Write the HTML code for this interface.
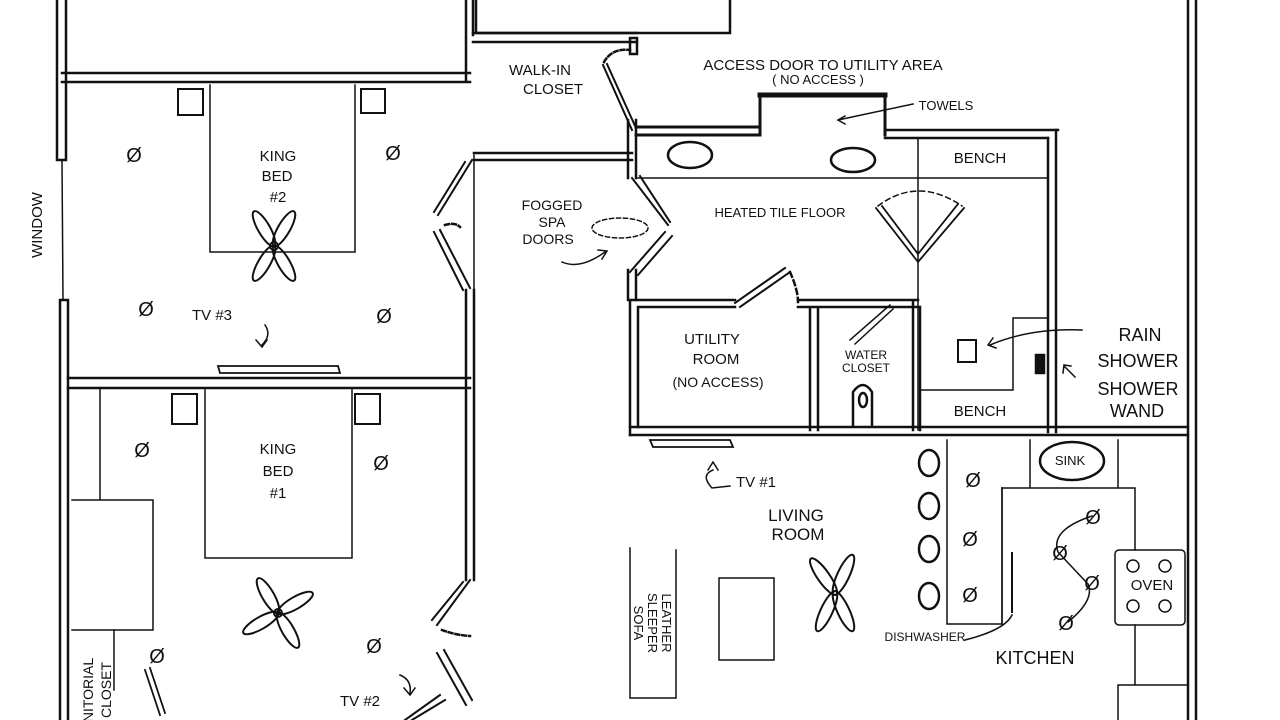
<!DOCTYPE html>
<html><head><meta charset="utf-8"><style>
html,body{margin:0;padding:0;background:#fff;width:1280px;height:720px;overflow:hidden}
svg text{font-family:"Liberation Sans",sans-serif;fill:#111}
</style></head><body>
<svg width="1280" height="720" viewBox="0 0 1280 720" xmlns="http://www.w3.org/2000/svg">
<g stroke="#111" stroke-width="2.5" fill="none" stroke-linecap="square">
<!-- left outer wall -->
<path d="M57 0V160M66 0V160M57 160H66"/>
<path d="M60 300V720M68 300V720M60 300H68"/>
<line x1="62" y1="160" x2="63" y2="300" stroke-width="1.5"/>
<!-- top-left room -->
<path d="M62 73H470M62 82H470M466 0V82M473 0V35"/>
<path d="M476 0V33H730V0"/>
<path d="M473 33H637M473 42H637"/>
<rect x="630" y="38" width="7" height="16"/>
<!-- wall between bedrooms -->
<path d="M68 378H470M68 388H470"/>
<!-- hall vertical wall -->
<path d="M466 290V580M474 290V580" />
<line x1="474" y1="155" x2="474" y2="290" stroke-width="1.5"/>
<path d="M474 153H632M474 160H632"/>
<!-- bed2 doors -->
<path d="M472 160L438 215M465 162L434 212" stroke-width="2"/>
<path d="M434 232L463 290M440 230L470 288" stroke-width="2"/>
<path d="M445 225Q455 222 460 227" stroke-dasharray="4 3"/>
<!-- closet door -->
<path d="M603 65L632 130M607 64L636 128" stroke-width="2"/>
<path d="M604 62Q612 48 630 50" stroke-dasharray="4 3"/>
<!-- bath left wall -->
<path d="M628 120V178M636 120V178M628 270V300M636 270V300"/>
<path d="M632 178L668 225M640 176L670 222" stroke-width="2"/>
<path d="M630 272L665 232M638 275L672 236" stroke-width="2"/>
<ellipse cx="620" cy="228" rx="28" ry="10" stroke-dasharray="4 3" stroke-width="1.5"/>
<!-- bath top -->
<path d="M636 127H760M636 135H760M760 135V95H885V135" stroke-width="3"/>
<path d="M760 95H885" stroke-width="5"/>
<path d="M885 130H1058M885 138H1048"/>
<path d="M1048 138V432M1056 130V432"/>
<path d="M636 178H1048M918 138V430" stroke-width="1.5"/>
<ellipse cx="690" cy="155" rx="22" ry="13"/>
<ellipse cx="853" cy="160" rx="22" ry="12"/>
<!-- shower door -->
<path d="M876 208L918 262L964 208M882 206L918 254L958 204" stroke-width="1.8"/>
<path d="M878 206Q918 176 962 206" stroke-dasharray="5 4" stroke-width="1.5"/>
<!-- utility/WC -->
<path d="M630 300V435M638 307V427M630 300H735M638 307H735"/>
<path d="M735 303L785 268M740 307L790 272" stroke-width="2"/>
<path d="M790 272Q798 290 798 302" stroke-dasharray="5 4"/>
<path d="M798 300H918M798 307H918M810 307V430M818 307V430M913 300V430M920 307V430"/>
<path d="M630 427H1188M630 435H1188"/>
<path d="M850 340L890 305M855 344L893 309" stroke-width="1.5"/>
<path d="M853 425V392Q863 378 872 392V425"/>
<ellipse cx="863" cy="400" rx="4" ry="7"/>
<path d="M1048 318H1013V390H920" stroke-width="1.5"/>
<rect x="958" y="340" width="18" height="22" stroke-width="2"/>
<rect x="1036" y="355" width="8" height="18" fill="#111"/>
<!-- outer right wall -->
<path d="M1188 0V720M1196 0V720"/>
<!-- tv1 -->
<path d="M650 440H730L733 447H653Z" stroke-width="1.8"/>
<!-- bed2 furniture -->
<path d="M210 85V252H355V85" stroke-width="1.5"/>
<rect x="178" y="89" width="25" height="26" stroke-width="2"/>
<rect x="361" y="89" width="24" height="24" stroke-width="2"/>
<path d="M218 366H338L340 373H220Z" stroke-width="1.8"/>
<!-- bed1 furniture -->
<path d="M205 390V558H352V390" stroke-width="1.5"/>
<rect x="172" y="394" width="25" height="30" stroke-width="2"/>
<rect x="355" y="394" width="25" height="30" stroke-width="2"/>
<path d="M100 388V500M88 500H125M72 500H153V630H72" stroke-width="1.5"/>
<path d="M114 630V690" stroke-width="1.5"/>
<path d="M145 670L160 715M150 668L165 713" stroke-width="1.8"/>
<!-- bed1 door -->
<path d="M470 580L437 625M463 582L432 620" stroke-width="2"/>
<path d="M437 653L466 705M444 650L472 700" stroke-width="2"/>
<path d="M442 630Q455 635 470 636" stroke-dasharray="4 3"/>
<path d="M405 720L440 695M412 720L445 700" stroke-width="2"/>
<!-- living -->
<path d="M630 548V698M676 550V698H630" stroke-width="1.5"/>
<rect x="719" y="578" width="55" height="82" stroke-width="1.5"/>
<!-- kitchen -->
<path d="M947 440V624H1002V488" stroke-width="1.5"/>
<path d="M1030 440V488M1118 440V488M1002 488H1135V550" stroke-width="1.5"/>
<path d="M1002 488V624" stroke-width="1.5"/>
<path d="M1012 553V612" stroke-width="2"/>
<rect x="1115" y="550" width="70" height="75" rx="4" stroke-width="1.5"/>
<path d="M1135 625V685M1118 685V720M1118 685H1188" stroke-width="1.5"/>
<ellipse cx="1072" cy="461" rx="32" ry="19"/>
<ellipse cx="929" cy="463" rx="10" ry="13"/>
<ellipse cx="929" cy="506" rx="10" ry="13"/>
<ellipse cx="929" cy="549" rx="10" ry="13"/>
<ellipse cx="929" cy="596" rx="10" ry="13"/>
<circle cx="1133" cy="566" r="6" stroke-width="1.5"/><circle cx="1165" cy="566" r="6" stroke-width="1.5"/>
<circle cx="1133" cy="606" r="6" stroke-width="1.5"/><circle cx="1165" cy="606" r="6" stroke-width="1.5"/>
<path d="M1092 516Q1050 530 1058 552Q1070 565 1088 584Q1095 600 1068 622" stroke-width="1.5"/>
<path d="M1012 615Q1005 630 965 640" stroke-width="1.5"/>
<!-- arrows -->
<path d="M265 325Q272 335 262 345M256 340L262 347L267 340" stroke-width="1.5"/>
<path d="M562 262Q580 270 605 252M598 250L607 251L602 259" stroke-width="1.5"/>
<path d="M1082 330Q1030 328 990 345M993 338L988 345L996 348" stroke-width="1.5"/>
<path d="M1075 377L1064 366M1063 373L1064 365L1071 366" stroke-width="1.5"/>
<path d="M913 104L838 120M845 116L838 120L845 124" stroke-width="1.5"/>
<path d="M713 470Q700 475 712 488L730 486M708 470L713 462L718 470" stroke-width="1.5"/>
<path d="M400 675Q412 680 410 693M404 688L410 695L415 688" stroke-width="1.5"/>
</g>
<!-- fans -->
<g stroke="#111" stroke-width="2" fill="none">
<g transform="translate(274,246)"><ellipse cx="0" cy="-20" rx="6" ry="20" transform="rotate(-30)"/><ellipse cx="0" cy="-20" rx="6" ry="20" transform="rotate(30)"/><ellipse cx="0" cy="-20" rx="6" ry="20" transform="rotate(150)"/><ellipse cx="0" cy="-20" rx="6" ry="20" transform="rotate(210)"/><circle r="4"/></g>
<g transform="translate(278,613)"><ellipse cx="0" cy="-20" rx="6" ry="20" transform="rotate(-30)"/><ellipse cx="0" cy="-20" rx="6" ry="20" transform="rotate(60)"/><ellipse cx="0" cy="-20" rx="6" ry="20" transform="rotate(150)"/><ellipse cx="0" cy="-20" rx="6" ry="20" transform="rotate(240)"/><circle r="4"/></g>
<g transform="translate(835,593)"><ellipse cx="0" cy="-20" rx="6" ry="22" transform="rotate(-35)"/><ellipse cx="0" cy="-20" rx="6" ry="22" transform="rotate(25)"/><ellipse cx="0" cy="-20" rx="6" ry="22" transform="rotate(155)"/><ellipse cx="0" cy="-20" rx="6" ry="22" transform="rotate(205)"/></g>
</g>
<!-- lights -->
<g font-size="20" text-anchor="middle">
<text x="134" y="162">Ø</text><text x="393" y="160">Ø</text><text x="146" y="316">Ø</text><text x="384" y="323">Ø</text>
<text x="142" y="457">Ø</text><text x="381" y="470">Ø</text><text x="157" y="663">Ø</text><text x="374" y="653">Ø</text>
<text x="973" y="487">Ø</text><text x="970" y="546">Ø</text><text x="970" y="602">Ø</text>
<text x="1093" y="524">Ø</text><text x="1060" y="560">Ø</text><text x="1092" y="590">Ø</text><text x="1066" y="630">Ø</text>
</g>
<g font-size="15" text-anchor="middle">
<text x="278" y="161">KING</text><text x="277" y="181">BED</text><text x="278" y="202">#2</text>
<text x="278" y="454">KING</text><text x="278" y="476">BED</text><text x="278" y="498">#1</text>
<text x="540" y="75">WALK-IN</text><text x="553" y="94">CLOSET</text>
<text x="823" y="70">ACCESS DOOR TO UTILITY AREA</text><text x="818" y="84" font-size="13">( NO ACCESS )</text>
<text x="946" y="110" font-size="13">TOWELS</text>
<text x="980" y="163">BENCH</text><text x="980" y="416">BENCH</text>
<text x="780" y="217" font-size="13">HEATED TILE FLOOR</text>
<text x="552" y="210" font-size="14">FOGGED</text><text x="552" y="227" font-size="14">SPA</text><text x="548" y="244" font-size="14">DOORS</text>
<text x="712" y="344">UTILITY</text><text x="716" y="364">ROOM</text><text x="718" y="387" font-size="14">(NO ACCESS)</text>
<text x="866" y="359" font-size="12">WATER</text><text x="866" y="372" font-size="12">CLOSET</text>
<text x="1140" y="341" font-size="18">RAIN</text><text x="1138" y="367" font-size="18">SHOWER</text>
<text x="1138" y="395" font-size="18">SHOWER</text><text x="1137" y="417" font-size="18">WAND</text>
<text x="212" y="320">TV #3</text><text x="360" y="706">TV #2</text>
<text x="756" y="487">TV #1</text>
<text x="796" y="521" font-size="17">LIVING</text><text x="798" y="540" font-size="17">ROOM</text>
<text x="1070" y="465" font-size="13">SINK</text><text x="1152" y="590" font-size="15">OVEN</text>
<text x="925" y="641" font-size="12">DISHWASHER</text><text x="1035" y="664" font-size="18">KITCHEN</text>
</g>
<text transform="translate(42,225) rotate(-90)" font-size="15" text-anchor="middle">WINDOW</text>
<text transform="translate(662,623) rotate(90)" font-size="13" text-anchor="middle">LEATHER</text>
<text transform="translate(648,623) rotate(90)" font-size="13" text-anchor="middle">SLEEPER</text>
<text transform="translate(634,623) rotate(90)" font-size="13" text-anchor="middle">SOFA</text>
<text transform="translate(93,690) rotate(-90)" font-size="14" text-anchor="middle">NITORIAL</text>
<text transform="translate(111,690) rotate(-90)" font-size="14" text-anchor="middle">CLOSET</text>
</svg>
</body></html>
